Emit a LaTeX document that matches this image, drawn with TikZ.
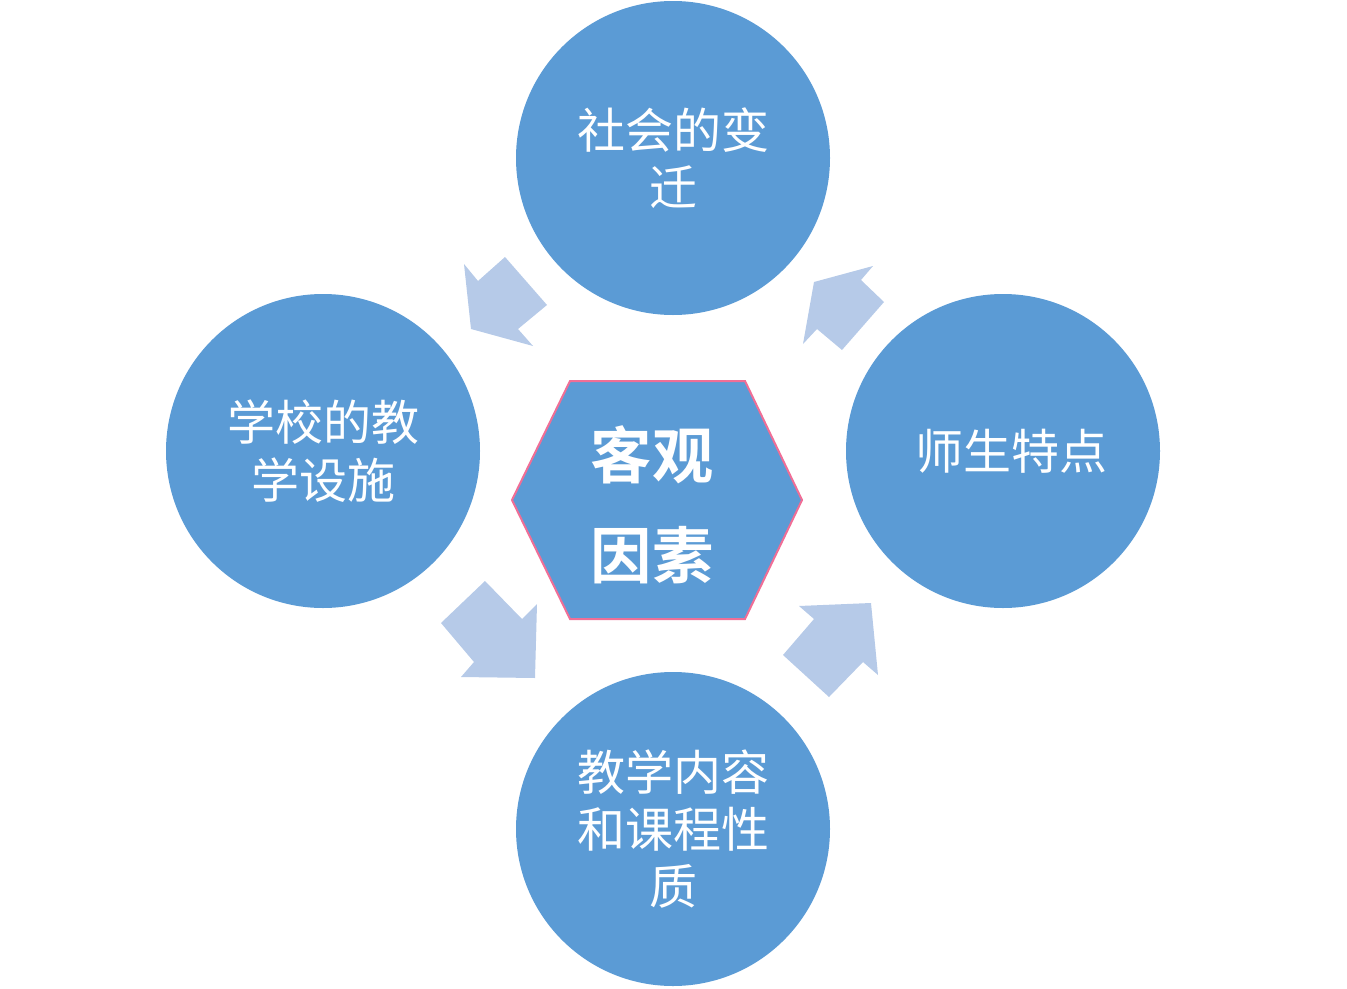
\documentclass[tikz,border=0pt]{standalone}
\usepackage{fontspec}
\newfontfamily\cjk{Noto Sans CJK SC}
\newfontfamily\cjkb{Noto Sans CJK SC Bold}
\definecolor{circblue}{RGB}{91,155,213}
\definecolor{arrblue}{RGB}{182,202,232}
\definecolor{hexpink}{RGB}{240,110,150}
\tikzset{
  factor/.style={circle, fill=circblue, draw=none, inner sep=0pt, minimum size=235.5pt,
    text=white, align=center, font=\cjk\fontsize{36}{43}\selectfont},
  factortext/.style={text=white, align=center, inner sep=0pt, font=\cjk\fontsize{36}{43}\selectfont},
  blockarrow/.style={fill=arrblue, draw=none},
  hexbox/.style={fill=circblue, draw=hexpink, line width=1.5pt},
  hextext/.style={text=white, align=center, font=\cjkb\fontsize{46}{75}\selectfont}
}
\begin{document}
\begin{tikzpicture}[x=0.75pt, y=-0.75pt]
\useasboundingbox (0,0) rectangle (1347,989);
% circles
\node[factor] (top) at (673,158) {社会的变\\迁};
\node[factor] (left) at (323,451) {学校的教\\学设施};
\node[factor] (right) at (1003,451) {};
\node[factortext] (rightlabel) at (1011,451) {师生特点};
\node[factor] (bottom) at (673,829) {教学内容\\和课程性\\质};
% hexagon
\draw[hexbox] (570,381) -- (745,381) -- (802,500) -- (745,619) -- (570,619) -- (512,500) -- cycle;
\node[hextext] (center) at (652,505) {客观\\因素};
% block arrows
\fill[blockarrow] (464,264) -- (478,281) -- (505,257) -- (547,305) -- (518,329) -- (533,346) -- (471,329) -- cycle;
\fill[blockarrow] (803,344) -- (814,282) -- (873,266) -- (861,280) -- (884,302) -- (842,350) -- (817,329) -- cycle;
\fill[blockarrow] (485,581) -- (522,619) -- (537,604) -- (535,678) -- (461,677) -- (474,662) -- (441,623) -- cycle;
\fill[blockarrow] (799,606) -- (871,603) -- (878,675) -- (863,662) -- (829,697) -- (783,655) -- (814,619) -- cycle;
\end{tikzpicture}
\end{document}
